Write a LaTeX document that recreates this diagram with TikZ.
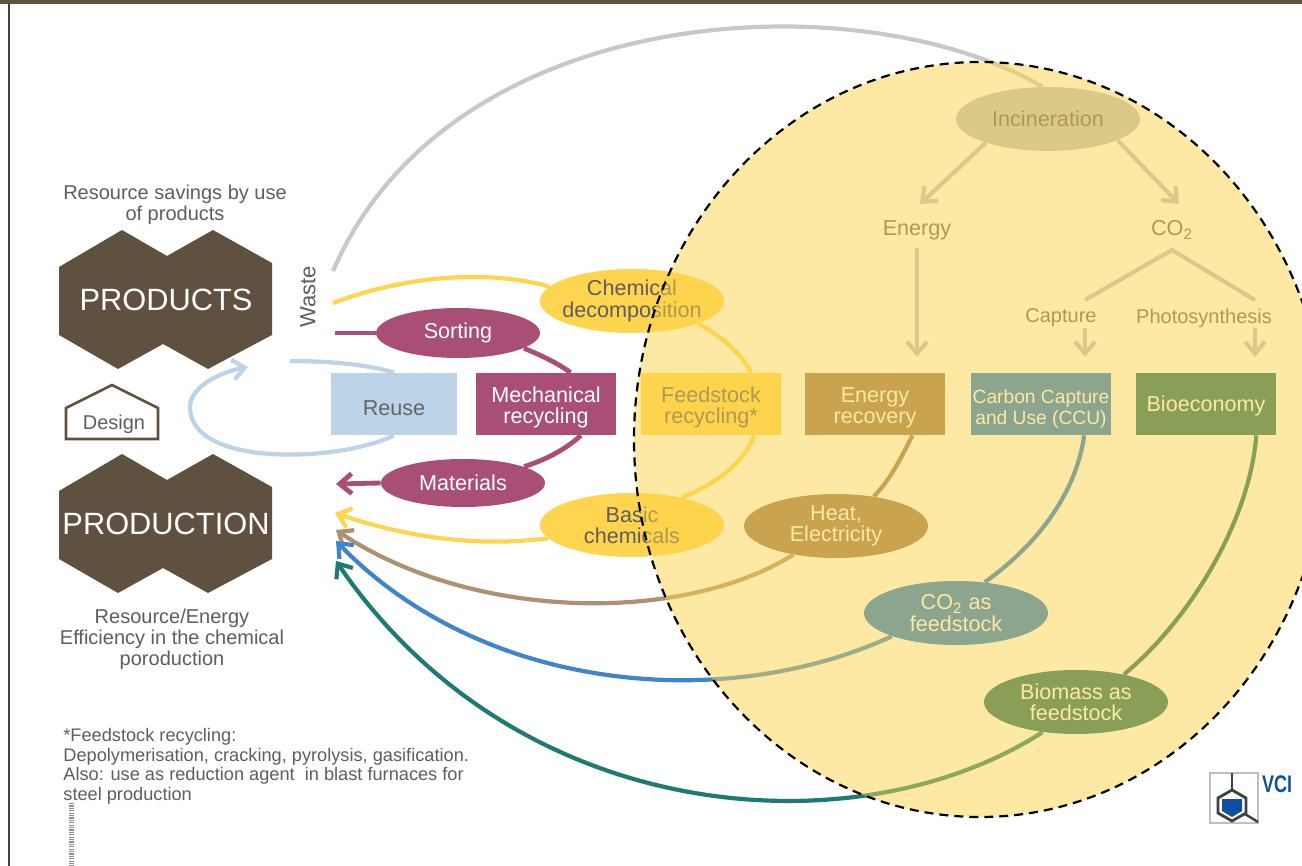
\documentclass[tikz,border=0pt]{standalone}
\usepackage{fontspec}
\usepackage{graphicx}
\setmainfont{Liberation Sans}
\usetikzlibrary{arrows.meta,shapes.geometric}
\definecolor{umber}{HTML}{5F5040}
\definecolor{txtgrey}{HTML}{5E5E5E}
\definecolor{paleblue}{HTML}{BDD3E8}
\definecolor{plum}{HTML}{A94F75}
\definecolor{sun}{HTML}{FFD44F}
\definecolor{ochre}{HTML}{977355}
\definecolor{tan}{HTML}{AE9172}
\definecolor{skyblue}{HTML}{3F84CC}
\definecolor{ccublue}{HTML}{1B77D5}
\definecolor{teal}{HTML}{1F7A74}
\definecolor{biogreen}{HTML}{156B67}
\definecolor{ashgrey}{HTML}{C8C8C8}
\definecolor{incingrey}{HTML}{B7BFCB}
\definecolor{vciblue}{HTML}{0F4F9F}
\definecolor{regionfill}{HTML}{FDD449}
\tikzset{
  >={Straight Barb[length=6pt,width=10pt]},
  lbl/.style={text=txtgrey,align=center,font=\fontsize{10}{10.5}\selectfont,inner sep=0pt},
  tag/.style={shape=rectangle,minimum width=70pt,minimum height=31pt,inner sep=0pt,align=center,font=\fontsize{10.8}{10.6}\selectfont},
  lower/.style={execute at begin node={\rule{0pt}{#1}}},
  blob/.style={shape=ellipse,minimum width=92pt,minimum height=32pt,inner sep=0pt,align=center,font=\fontsize{10.8}{10.6}\selectfont},
  hextitle/.style={text=white,font=\fontsize{15.4}{15.4}\selectfont,inner sep=0pt},
  link/.style={line width=2.1pt},
  fat/.style={line width=2.4pt}
}
\begin{document}
\begin{tikzpicture}[x=.5pt,y=-.5pt]
\clip (0,0) rectangle (1302,866);
\fill[white] (0,0) rectangle (1302,866);

% frame
\fill[umber] (0,0) rectangle (1302,4);
\draw[black!75,line width=1.2pt] (9,4) -- (9,866);

% hexagons
\fill[umber] (59,267) -- (122,230) -- (167,256) -- (213,230) -- (272,263) -- (272,335) -- (208,369) -- (163,344) -- (118,369) -- (59,335) -- cycle;
\fill[umber] (59,491) -- (122,454) -- (167,480) -- (213,454) -- (272,487) -- (272,559) -- (208,593) -- (163,568) -- (118,593) -- (59,559) -- cycle;
\node[hextitle] (products) at (166,300) {PRODUCTS};
\node[hextitle] (production) at (166,524) {PRODUCTION};
\node[lbl] (savings) at (175,205) {Resource savings by use\\of products};
\node[lbl] (efficiency) at (172,639) {Resource/Energy\\Efficiency in the chemical\\poroduction};

\draw[umber,line width=1.3pt] (66,439) -- (66,408) -- (112,385) -- (158,408) -- (158,439) -- cycle;
\node[lbl] (design) at (114,424) {Design};
\node[lbl,rotate=90,font=\fontsize{11}{11}\selectfont] (waste) at (308,297) {Waste};

\node[lbl,anchor=north west,align=left,font=\fontsize{9.1}{9.8}\selectfont] (note) at (63,728) {*Feedstock recycling:\\Depolymerisation, cracking, pyrolysis, gasification.\\Also: use as reduction agent\ \ in blast furnaces for\\steel production};
\draw[black!45,line width=2.5pt,dash pattern=on .6pt off .6pt] (71,803) -- (71,866);

% boxes
\node[tag,lower=12pt,fill=paleblue,text=black!60,minimum width=63pt] (reuse) at (394,404) {Reuse};
\node[tag,lower=22pt,fill=plum,text=white] (mech) at (546,404) {Mechanical\\recycling};
\node[tag,lower=22pt,fill=sun,text=txtgrey] (feed) at (711,404) {Feedstock\\recycling*};
\node[tag,lower=22pt,fill=ochre,text=white] (recovery) at (875,404) {Energy\\recovery};
\node[tag,lower=22pt,fill=ccublue,text=white,font=\fontsize{9.6}{10.4}\selectfont] (ccu) at (1041,404) {Carbon Capture\\and Use (CCU)};
\node[tag,lower=10pt,fill=biogreen,text=white] (bioeconomy) at (1206,404) {Bioeconomy};

% ellipses
\node[blob,fill=incingrey,text=txtgrey] (incin) at (1048,119) {Incineration};
\node[blob,fill=sun,text=txtgrey,inner sep=-8pt] (chem) at (632,301) {Chemical\\decomposition};
\node[blob,fill=sun,text=txtgrey] (basic) at (632,525) {Basic\\chemicals};
\node[blob,fill=plum,text=white,minimum width=82pt,minimum height=25pt] (sorting) at (458,333) {Sorting};
\node[blob,fill=plum,text=white,minimum width=82pt,minimum height=24pt] (materials) at (463,483) {Materials};
\node[blob,fill=ochre,text=white] (heat) at (836,526) {Heat,\\Electricity};
\node[blob,fill=ccublue,text=white] (co2feed) at (956,613) {CO\textsubscript{2} as\\feedstock};
\node[blob,fill=biogreen,text=white] (biomass) at (1076,702) {Biomass as\\feedstock};

\node[lbl,font=\fontsize{10.8}{10.8}\selectfont] (energy) at (917,230) {Energy};
\node[lbl,font=\fontsize{10.8}{10.8}\selectfont] (co2) at (1172,230) {CO\textsubscript{2}};
\node[lbl] (capture) at (1061,318) {Capture};
\node[lbl] (photo) at (1204,318) {Photosynthesis};

% free ends
\coordinate (endwaste) at (333,271);
\coordinate (endyellow) at (333,303);
\coordinate (endsort) at (335,333);
\coordinate (endmat) at (336,484);
\coordinate (endbasic) at (335,513);
\coordinate (endheat) at (336,530);
\coordinate (endfeed) at (336,541);
\coordinate (endbio) at (336,561);
\coordinate (endreuse) at (290,361);
\coordinate (tipreuse) at (248,367);
\coordinate (roofpeak) at (1172,250);
\coordinate (roofleft) at (1085,300);
\coordinate (roofright) at (1255,300);
\coordinate (startenergy) at (917,248);
\coordinate (startcapture) at (1085,328);
\coordinate (startphoto) at (1255,328);
\coordinate (tipincinen) at (920,204);
\coordinate (tipincinco) at (1179,204);
\coordinate (tipcapture) at (1085,357);
\coordinate (tipphoto) at (1255,357);
\coordinate (tipenergy) at (917,357);

% connectors
\draw[ashgrey,link] (endwaste) .. controls (450,0) and (860,-20) .. (incin.100);
\draw[incingrey,link,->] (incin.201) -- (tipincinen);
\draw[incingrey,link,->] (incin.-17) -- (tipincinco);
\draw[incingrey,link,->] (startenergy) -- (tipenergy);
\draw[incingrey,link] (roofleft) -- (roofpeak) -- (roofright);
\draw[incingrey,link,->] (startcapture) -- (tipcapture);
\draw[incingrey,link,->] (startphoto) -- (tipphoto);

\draw[paleblue,link] (reuse.north) .. controls (370,365) and (330,361) .. (endreuse);
\draw[paleblue,link,->] (reuse.south) .. controls (340,462) and (190,468) .. (190,407) .. controls (190,387) and (220,372) .. (tipreuse);

\draw[sun,link] (endyellow) .. controls (400,278) and (480,268) .. (chem.170);
\draw[sun,link] (chem.-19) .. controls (720,335) and (740,352) .. (feed.38);
\draw[sun,link] (feed.-36) .. controls (745,462) and (715,485) .. (basic.29);
\draw[sun,link,->] (basic.189) .. controls (470,548) and (400,535) .. (endbasic);

\draw[plum,fat] (sorting.180) -- (endsort);
\draw[plum,fat] (sorting.-13) .. controls (540,355) and (556,362) .. (mech.52);
\draw[plum,fat] (mech.-42) .. controls (565,450) and (545,460) .. (materials.15);
\draw[plum,fat,->] (materials.180) -- (endmat);

\draw[ochre,link] (recovery.-40) .. controls (900,460) and (890,480) .. (heat.38);
\draw[tan,link,->] (heat.214) .. controls (680,625) and (470,620) .. (endheat);
\draw[ccublue,link] (ccu.-36) .. controls (1075,500) and (1030,550) .. (co2feed.47);
\draw[skyblue,link,->] (co2feed.200) .. controls (720,715) and (480,690) .. (endfeed);
\draw[biogreen,link] (bioeconomy.-32) .. controls (1250,520) and (1190,620) .. (biomass.30);
\draw[teal,link,->] (biomass.222) .. controls (860,850) and (520,830) .. (endbio);

% logo
\draw[black!25,line width=.8pt] (1210,773) rectangle (1258,823);
\draw[black!75,line width=1.2pt] (1232,773) -- (1232,790);
\draw[black!75,line width=1.2pt] (1245,814) -- (1258,822);
\draw[black!75,fill=white,line width=1.4pt] (1232,790) -- (1246,798) -- (1246,813) -- (1232,821) -- (1218,813) -- (1218,798) -- cycle;
\fill[vciblue] (1222,799) -- (1242,799) -- (1242,811) -- (1232,817) -- (1222,811) -- cycle;
\node[text=vciblue,inner sep=0pt,font=\bfseries\fontsize{12}{12}\selectfont] (vci) at (1277,784) {\scalebox{.75}[1]{VCI}};

% highlighted region
\node[shape=ellipse,minimum width=346pt,minimum height=377.5pt,inner sep=0pt,draw=black,dash pattern=on 4.5pt off 3pt,line width=1.1pt,fill=regionfill,fill opacity=.5] (region) at (980,439.5) {};
\end{tikzpicture}
\end{document}
